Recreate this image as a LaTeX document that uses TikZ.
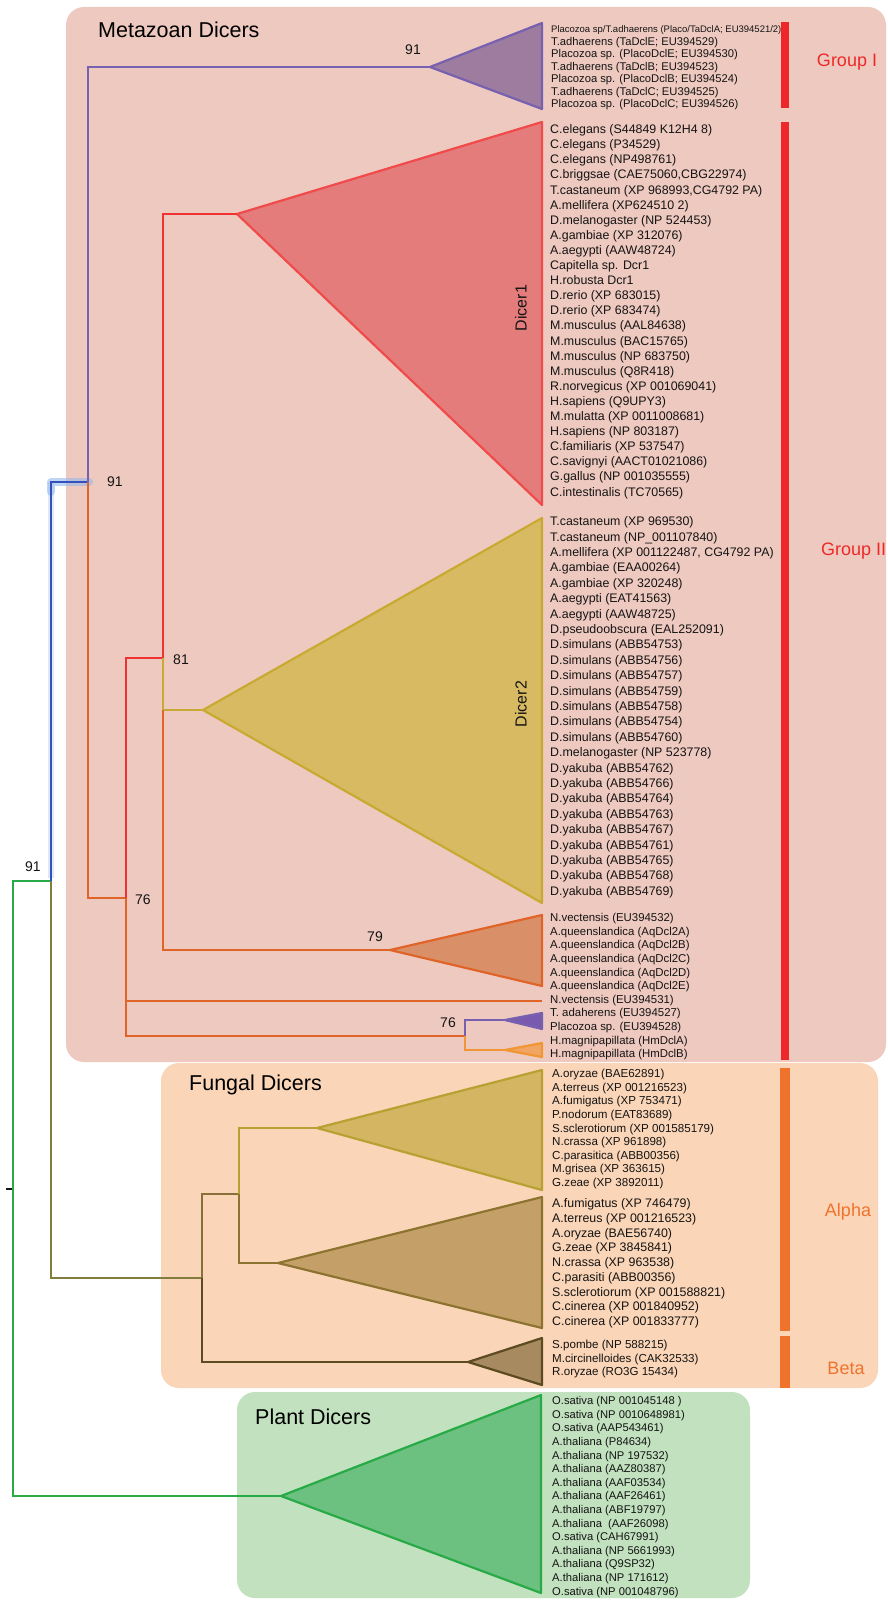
\documentclass[tikz,border=0pt]{standalone}
\usepackage{fontspec}
\setmainfont{Liberation Sans}
\definecolor{metabg}{HTML}{EEC9BF}
\definecolor{fungbg}{HTML}{FAD5B7}
\definecolor{plantbg}{HTML}{C1E1BF}
\definecolor{purpleline}{HTML}{7860B0}
\definecolor{purplefill}{HTML}{9E7CA0}
\definecolor{blueline}{HTML}{3250BE}
\definecolor{blueglow}{HTML}{96B9EB}
\definecolor{orangeline}{HTML}{E06428}
\definecolor{redline}{HTML}{F03232}
\definecolor{dIfill}{HTML}{E57C7C}
\definecolor{dIstroke}{HTML}{F04A4A}
\definecolor{yellowline}{HTML}{C8AA32}
\definecolor{dIIfill}{HTML}{D8BA62}
\definecolor{aqfill}{HTML}{D99068}
\definecolor{smallpurple}{HTML}{785AAF}
\definecolor{hmfill}{HTML}{F0A564}
\definecolor{hmline}{HTML}{F09632}
\definecolor{greenline}{HTML}{28AA46}
\definecolor{plantfill}{HTML}{6CC080}
\definecolor{oliveline}{HTML}{827D3C}
\definecolor{fyellow}{HTML}{B9A032}
\definecolor{fAfill}{HTML}{D4B662}
\definecolor{fmid}{HTML}{87703A}
\definecolor{fBfill}{HTML}{C4A068}
\definecolor{fBline}{HTML}{8C7430}
\definecolor{fCfill}{HTML}{A88A60}
\definecolor{fCline}{HTML}{5C4A20}
\definecolor{barred}{HTML}{EE2828}
\definecolor{barorange}{HTML}{F0732D}
\definecolor{txt}{HTML}{141414}
\tikzset{
  br/.style={line width=2.4pt, line join=miter},
  tri/.style={line width=2.2pt, line join=round},
  lbl/.style={anchor=mid west, inner sep=0pt, text=txt, font=\fontsize{12.4}{14}\selectfont},
  lbls/.style={anchor=mid west, inner sep=0pt, text=txt, font=\fontsize{11.2}{13}\selectfont},
  boot/.style={inner sep=0pt, text=txt, font=\fontsize{14}{14}\selectfont},
  head/.style={anchor=west, inner sep=0pt, text=black, font=\fontsize{21.5}{22}\selectfont},
  grp/.style={inner sep=0pt, font=\fontsize{18}{18}\selectfont},
  bx/.style={rounded corners=18pt}
}
\begin{document}
\begin{tikzpicture}[x=1pt,y=-1pt]
\fill[white] (0,0) rectangle (888,1600);
\useasboundingbox (0,0) rectangle (888,1600);
% boxes
\fill[metabg,bx] (66,7) rectangle (886,1062);
\fill[fungbg,bx] (161,1063) rectangle (878,1388);
\fill[plantbg,bx] (237,1392) rectangle (750,1598);
\node[head] (hmeta) at (98,30) {Metazoan Dicers};
\node[head] (hfung) at (189,1085) {Fungal Dicers};
\node[head] (hplant) at (255,1417) {Plant Dicers};
% coordinates
\coordinate (r1) at (13,881);
\coordinate (r2) at (13,1496);
\coordinate (n51a) at (51,881);
\coordinate (n51b) at (51,482);
\coordinate (n51c) at (51,1278);
\coordinate (n88a) at (88,482);
\coordinate (n88top) at (88,67);
\coordinate (gI) at (430,67);
\coordinate (n88b) at (88,898);
\coordinate (n126a) at (126,898);
\coordinate (n126top) at (126,658);
\coordinate (n126bot) at (126,1036);
\coordinate (n126v) at (126,1001);
\coordinate (n163a) at (163,658);
\coordinate (n163top) at (163,214);
\coordinate (d1) at (237,214);
\coordinate (n163y) at (163,710);
\coordinate (d2) at (203,710);
\coordinate (n163b) at (163,950);
\coordinate (aq) at (390,950);
\coordinate (nv) at (542,1001);
\coordinate (n465) at (465,1036);
\coordinate (n465t) at (465,1020);
\coordinate (n465b) at (465,1050);
\coordinate (ta) at (505,1020);
\coordinate (hm) at (505,1050);
\coordinate (f1) at (202,1278);
\coordinate (f1t) at (202,1194);
\coordinate (f1b) at (202,1362);
\coordinate (f2) at (239,1194);
\coordinate (f2t) at (239,1128);
\coordinate (f2b) at (239,1263);
\coordinate (fa) at (317,1128);
\coordinate (fb) at (278,1263);
\coordinate (fc) at (468,1362);
\coordinate (pl) at (281,1496);
\coordinate (tick1) at (6,1189);
\coordinate (tick2) at (12,1189);
% triangles
\draw[tri,fill=purplefill,draw=purpleline] (gI) -- (542,23) -- (542,109) -- cycle;
\draw[tri,fill=dIfill,draw=dIstroke] (d1) -- (542,122) -- (542,505) -- cycle;
\draw[tri,fill=dIIfill,draw=yellowline] (d2) -- (542,518) -- (542,903) -- cycle;
\draw[tri,fill=aqfill,draw=orangeline] (aq) -- (542,915) -- (542,986) -- cycle;
\draw[tri,fill=smallpurple,draw=purpleline] (ta) -- (542,1013) -- (542,1029) -- cycle;
\draw[tri,fill=hmfill,draw=hmline] (hm) -- (542,1043) -- (542,1057) -- cycle;
\draw[tri,fill=fAfill,draw=fyellow] (fa) -- (542,1070) -- (542,1190) -- cycle;
\draw[tri,fill=fBfill,draw=fBline] (fb) -- (542,1197) -- (542,1328) -- cycle;
\draw[tri,fill=fCfill,draw=fCline] (fc) -- (542,1338) -- (542,1385) -- cycle;
\draw[tri,fill=plantfill,draw=greenline] (pl) -- (541,1395) -- (541,1593) -- cycle;
% branches
\draw[blueglow,opacity=0.3,line width=6pt] (51,878) -- (n51b);
\draw[blueglow,opacity=0.6,line width=8pt,line cap=round,line join=round] (51,492) -- (n51b) -- (89,482);
\draw[br,greenline] (n51a) -- (r1) -- (r2) -- (pl);
\draw[br,oliveline] (n51a) -- (n51c) -- (f1);
\draw[br,blueline] (n51a) -- (n51b) -- (n88a);
\draw[br,purpleline] (n88a) -- (n88top) -- (gI);
\draw[br,orangeline] (n88a) -- (n88b) -- (n126a);
\draw[br,redline] (n126a) -- (n126top) -- (n163a);
\draw[br,orangeline] (n126a) -- (n126bot) -- (n465);
\draw[br,orangeline] (n126v) -- (nv);
\draw[br,redline] (n163a) -- (n163top) -- (d1);
\draw[br,yellowline] (n163a) -- (n163y) -- (d2);
\draw[br,orangeline] (n163y) -- (n163b) -- (aq);
\draw[br,purpleline] (n465) -- (n465t) -- (ta);
\draw[br,hmline] (n465) -- (n465b) -- (hm);
\draw[br,fmid] (f1) -- (f1t) -- (f2);
\draw[br,fCline] (f1) -- (f1b) -- (fc);
\draw[br,fyellow] (f2) -- (f2t) -- (fa);
\draw[br,fBline] (f2) -- (f2b) -- (fb);
\draw[line width=2pt,txt] (tick1) -- (tick2);
% bootstrap values
\node[boot] (b1) at (33,867) {91};
\node[boot] (b2) at (115,482) {91};
\node[boot] (b3) at (413,50) {91};
\node[boot] (b4) at (143,900) {76};
\node[boot] (b5) at (181,660) {81};
\node[boot] (b6) at (375,937) {79};
\node[boot] (b7) at (448,1023) {76};
% rotated labels
\node[rotate=90,inner sep=0pt,text=txt,font=\fontsize{16}{16}\selectfont] (ld1) at (521,308) {Dicer1};
\node[rotate=90,inner sep=0pt,text=txt,font=\fontsize{16}{16}\selectfont] (ld2) at (521,704) {Dicer2};
% bars
\fill[barred] (781,22) rectangle (789,108);
\fill[barred] (781,122) rectangle (789,1060);
\fill[barorange] (780,1068) rectangle (790,1331);
\fill[barorange] (780,1336) rectangle (790,1388);
\node[grp,text=barred] (gpI) at (847,62) {Group I};
\node[grp,text=barred,anchor=west] (gpII) at (821,551) {Group II};
\node[grp,text=barorange] (gpA) at (848,1212) {Alpha};
\node[grp,text=barorange] (gpB) at (846,1368) {Beta};
% Group I labels
\node[lbls,font=\fontsize{9.5}{11}\selectfont] (g1-1) at (551,30) {Placozoa sp/T.adhaerens (Placo/TaDclA; EU394521/2)};
\foreach \t [count=\i from 2] in {T.adhaerens (TaDclE; EU394529),Placozoa sp. (PlacoDclE; EU394530),T.adhaerens (TaDclB; EU394523),Placozoa sp. (PlacoDclB; EU394524),T.adhaerens (TaDclC; EU394525),Placozoa sp. (PlacoDclC; EU394526)}
  \node[lbls] (g1-\i) at (551,{30+12.5*(\i-1)}) {\t};
% Dicer1 labels
\foreach \t [count=\i] in {C.elegans (S44849 K12H4 8),C.elegans (P34529),C.elegans (NP498761),{C.briggsae (CAE75060,CBG22974)},{T.castaneum (XP 968993,CG4792 PA)},A.mellifera (XP624510 2),D.melanogaster (NP 524453),A.gambiae (XP 312076),A.aegypti (AAW48724),Capitella sp. Dcr1,H.robusta Dcr1,D.rerio (XP 683015),D.rerio (XP 683474),M.musculus (AAL84638),M.musculus (BAC15765),M.musculus (NP 683750),M.musculus (Q8R418),R.norvegicus (XP 001069041),H.sapiens (Q9UPY3),M.mulatta (XP 0011008681),H.sapiens (NP 803187),C.familiaris (XP 537547),C.savignyi (AACT01021086),G.gallus (NP 001035555),C.intestinalis (TC70565)}
  \node[lbl] (dI-\i) at (550,{131+15.1*(\i-1)}) {\t};
% Dicer2 labels
\foreach \t [count=\i] in {T.castaneum (XP 969530),T.castaneum (NP\_001107840),{A.mellifera (XP 001122487, CG4792 PA)},A.gambiae (EAA00264),A.gambiae (XP 320248),A.aegypti (EAT41563),A.aegypti (AAW48725),D.pseudoobscura (EAL252091),D.simulans (ABB54753),D.simulans (ABB54756),D.simulans (ABB54757),D.simulans (ABB54759),D.simulans (ABB54758),D.simulans (ABB54754),D.simulans (ABB54760),D.melanogaster (NP 523778),D.yakuba (ABB54762),D.yakuba (ABB54766),D.yakuba (ABB54764),D.yakuba (ABB54763),D.yakuba (ABB54767),D.yakuba (ABB54761),D.yakuba (ABB54765),D.yakuba (ABB54768),D.yakuba (ABB54769)}
  \node[lbl] (dII-\i) at (550,{523+15.4*(\i-1)}) {\t};
% other metazoan labels
\foreach \t [count=\i] in {N.vectensis (EU394532),A.queenslandica (AqDcl2A),A.queenslandica (AqDcl2B),A.queenslandica (AqDcl2C),A.queenslandica (AqDcl2D),A.queenslandica (AqDcl2E),N.vectensis (EU394531),T. adaherens (EU394527),Placozoa sp. (EU394528),H.magnipapillata (HmDclA),H.magnipapillata (HmDclB)}
  \node[lbls,font=\fontsize{11.4}{13}\selectfont] (aq-\i) at (550,{919+13.6*(\i-1)}) {\t};
% fungal labels
\foreach \t [count=\i] in {A.oryzae (BAE62891),A.terreus (XP 001216523),A.fumigatus (XP 753471),P.nodorum (EAT83689),S.sclerotiorum (XP 001585179),N.crassa (XP 961898),C.parasitica (ABB00356),M.grisea (XP 363615),G.zeae (XP 3892011)}
  \node[lbls,font=\fontsize{11.6}{13}\selectfont] (fa-\i) at (552,{1075+13.6*(\i-1)}) {\t};
\foreach \t [count=\i] in {A.fumigatus (XP 746479),A.terreus (XP 001216523),A.oryzae (BAE56740),G.zeae (XP 3845841),N.crassa (XP 963538),C.parasiti (ABB00356),S.sclerotiorum (XP 001588821),C.cinerea (XP 001840952),C.cinerea (XP 001833777)}
  \node[lbl] (fb-\i) at (552,{1205+14.75*(\i-1)}) {\t};
\foreach \t [count=\i] in {S.pombe (NP 588215),M.circinelloides (CAK32533),R.oryzae (RO3G 15434)}
  \node[lbls,font=\fontsize{11.6}{13}\selectfont] (fc-\i) at (552,{1346+13.6*(\i-1)}) {\t};
% plant labels
\foreach \t [count=\i] in {O.sativa (NP 001045148 ),O.sativa (NP 0010648981),O.sativa (AAP543461),A.thaliana (P84634),A.thaliana (NP 197532),A.thaliana (AAZ80387),A.thaliana (AAF03534),A.thaliana (AAF26461),A.thaliana (ABF19797),A.thaliana \ (AAF26098),O.sativa (CAH67991),A.thaliana (NP 5661993),A.thaliana (Q9SP32),A.thaliana (NP 171612),O.sativa (NP 001048796)}
  \node[lbls] (pl-\i) at (552,{1402+13.6*(\i-1)}) {\t};
\end{tikzpicture}
\end{document}
